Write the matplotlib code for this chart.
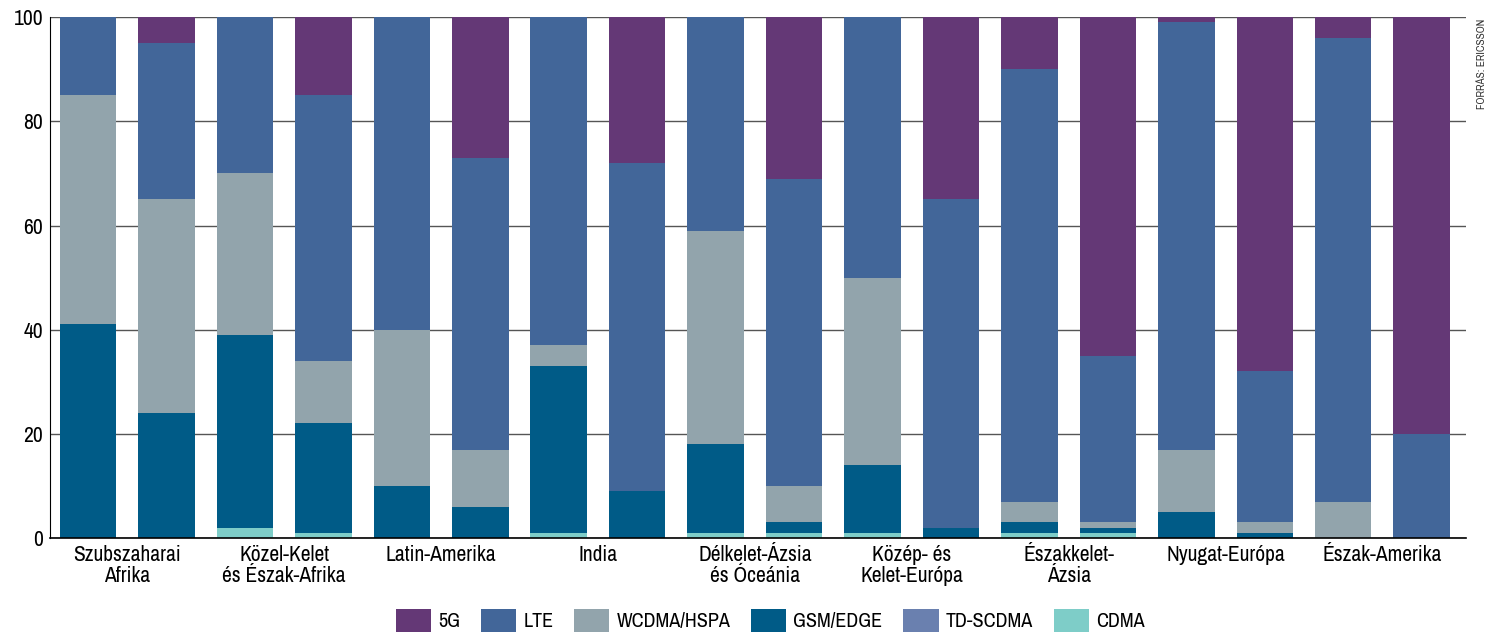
import matplotlib.pyplot as plt
from matplotlib import font_manager
import numpy as np

# pick a narrow sans if one is installed
installed = {f.name for f in font_manager.fontManager.ttflist}
narrow = [n for n in ['Liberation Sans Narrow', 'Arial Narrow', 'Archivo Narrow',
                      'PT Sans Narrow', 'Roboto Condensed'] if n in installed]
plt.rcParams['font.family'] = narrow[:1] + ['Liberation Sans', 'DejaVu Sans']

regions = ['Szubszaharai\nAfrika', 'Közel-Kelet\nés Észak-Afrika', 'Latin-Amerika', 'India',
           'Délkelet-Ázsia\nés Óceánia', 'Közép- és\nKelet-Európa', 'Északkelet-\nÁzsia',
           'Nyugat-Európa', 'Észak-Amerika']

# two bars per region (2020, 2026), shares in percent
cdma = [0, 0, 2, 1, 0, 0, 1, 0, 1, 1, 1, 0, 1, 1, 0, 0, 0, 0]
td_scdma = [0, 0, 0, 0, 0, 0, 0, 0, 0, 0, 0, 0, 0, 0, 0, 0, 0, 0]
gsm = [41, 24, 37, 21, 10, 6, 32, 9, 17, 2, 13, 2, 2, 1, 5, 1, 0, 0]
wcdma = [44, 41, 31, 12, 30, 11, 4, 0, 41, 7, 36, 0, 4, 1, 12, 2, 7, 0]
lte = [15, 30, 30, 51, 60, 56, 63, 63, 41, 59, 50, 63, 83, 32, 82, 29, 89, 20]
fiveg = [0, 5, 0, 15, 0, 27, 0, 28, 0, 31, 0, 35, 10, 65, 1, 68, 4, 80]

series = [('CDMA', cdma, '#7ecdc8'),
          ('TD-SCDMA', td_scdma, '#6a80af'),
          ('GSM/EDGE', gsm, '#005b87'),
          ('WCDMA/HSPA', wcdma, '#92a4ac'),
          ('LTE', lte, '#426699'),
          ('5G', fiveg, '#643876')]

fig = plt.figure(figsize=(14.87, 6.36), dpi=100)
ax = fig.add_axes([0.0336, 0.154, 0.952, 0.819])

x = np.arange(len(cdma))
bottom = np.zeros(len(cdma))
handles = {}
for name, vals, col in series:
    vals = np.array(vals, dtype=float)
    handles[name] = ax.bar(x, vals, 0.72, bottom=bottom, color=col, zorder=2, label=name)
    bottom += vals

ax.set_xlim(-0.485, 17.56)
ax.set_ylim(0, 100)
ax.set_yticks([0, 20, 40, 60, 80, 100])
ax.tick_params(axis='y', length=0, labelsize=15.5, pad=5)
ax.grid(axis='y', color='#555555', linewidth=1, zorder=0)
ax.set_axisbelow(True)

ax.set_xticks(np.arange(len(regions)) * 2 + 0.5)
ax.set_xticklabels(regions, fontsize=15.5, linespacing=1.05)
ax.tick_params(axis='x', length=0, pad=5)

for s in ['top', 'right']:
    ax.spines[s].set_visible(False)
ax.spines['left'].set_color('black')
ax.spines['bottom'].set_color('black')
ax.spines['bottom'].set_linewidth(1.2)

order = ['5G', 'LTE', 'WCDMA/HSPA', 'GSM/EDGE', 'TD-SCDMA', 'CDMA']
fig.legend([handles[n] for n in order], order, loc='lower center', ncol=6,
           bbox_to_anchor=(0.518, -0.022), frameon=False, fontsize=14.5,
           handlelength=1.75, handleheight=1.35, columnspacing=1.03, handletextpad=0.35)

fig.text(0.9965, 0.97, 'FORRÁS: ERICSSON', rotation=90, ha='center', va='top',
         fontsize=8, color='#333333')

fig.savefig('out.png', dpi=100)
